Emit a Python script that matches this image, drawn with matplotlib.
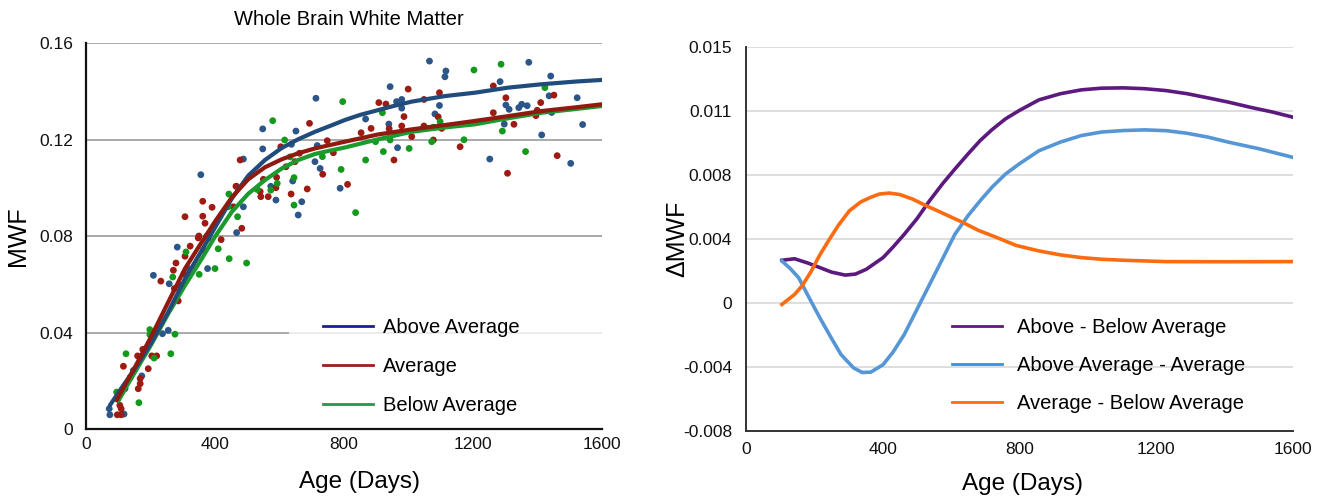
import matplotlib
matplotlib.use("Agg")
import matplotlib.pyplot as plt
from matplotlib.lines import Line2D

plt.rcParams['font.family'] = ['Liberation Sans', 'DejaVu Sans']

# ---- left panel: fitted curves (age in days, MWF)
above_x = [74, 110, 152, 204, 255, 307, 359, 400, 452, 503, 555, 607, 658, 710, 760, 803, 850, 906, 960, 1010, 1113, 1206, 1309, 1413, 1516, 1600]
above_y = [0.0098, 0.0170, 0.0250, 0.0361, 0.0485, 0.0623, 0.0740, 0.0835, 0.0955, 0.1050, 0.1115, 0.1165, 0.1201, 0.1232, 0.1258, 0.1281, 0.1302, 0.1322, 0.1341, 0.1357, 0.1380, 0.1394, 0.1415, 0.1429, 0.1440, 0.1447]
avg_x = [95, 120, 152, 204, 255, 307, 359, 400, 452, 503, 555, 607, 658, 710, 803, 906, 1010, 1113, 1206, 1309, 1413, 1516, 1600]
avg_y = [0.0119, 0.0180, 0.0257, 0.0388, 0.0526, 0.0665, 0.0775, 0.0860, 0.0960, 0.1035, 0.1085, 0.1118, 0.1143, 0.1163, 0.1191, 0.1221, 0.1242, 0.1260, 0.1277, 0.1297, 0.1318, 0.1333, 0.1346]
below_x = [100, 125, 152, 204, 255, 307, 359, 400, 452, 503, 555, 607, 658, 710, 760, 803, 906, 1010, 1113, 1206, 1309, 1413, 1516, 1600]
below_y = [0.0115, 0.0175, 0.0236, 0.0354, 0.0478, 0.0595, 0.0706, 0.0797, 0.0900, 0.0975, 0.1032, 0.1080, 0.1115, 0.1140, 0.1155, 0.1167, 0.1201, 0.1232, 0.1250, 0.1263, 0.1288, 0.1311, 0.1326, 0.1339]

# ---- left panel: individual subjects
blue_pts_x = [356, 713, 548, 651, 548, 488, 637, 717, 710, 726, 788, 641, 669, 658, 589, 573, 467, 488, 467,
              1065, 1116, 1113, 943, 963, 979, 1096, 979, 867, 1082, 939, 966,
              1373, 1441, 1284, 1436, 1523, 1302, 1312, 1342, 1351, 1368, 1444, 1297, 1540, 1413, 1252, 1503,
              283, 209, 258, 290, 377, 317, 255, 237, 147, 173, 121, 72, 74, 118, 375]
blue_pts_y = [0.1054, 0.1371, 0.1244, 0.1235, 0.1161, 0.1119, 0.1180, 0.1175, 0.1108, 0.1080, 0.0998, 0.1028, 0.0942, 0.0887, 0.0949, 0.1006, 0.1006, 0.0921, 0.0814,
              0.1525, 0.1484, 0.1460, 0.1419, 0.1357, 0.1366, 0.1341, 0.1330, 0.1285, 0.1306, 0.1264, 0.1166,
              0.1520, 0.1463, 0.1440, 0.1381, 0.1373, 0.1343, 0.1325, 0.1332, 0.1346, 0.1340, 0.1312, 0.1264, 0.1262, 0.1219, 0.1119, 0.1101,
              0.0754, 0.0637, 0.0602, 0.0596, 0.0665, 0.0665, 0.0409, 0.0395, 0.0243, 0.0220, 0.0167, 0.0084, 0.0059, 0.0062, 0.0800]
red_pts_x = [362, 391, 307, 362, 369, 693, 478, 604, 662, 748, 734, 767, 620, 648, 686, 636, 591, 589, 565, 542, 540, 550, 465, 457, 483,
             999, 1096, 1048, 908, 930, 986, 1092, 853, 884, 940, 979, 1048, 1103, 1010, 1077, 1160, 955, 811,
             1263, 1302, 1451, 1410, 1263, 1399, 1395, 1327, 1461, 1307,
             323, 348, 379, 307, 279, 232, 271, 274, 304, 286, 364, 419,
             176, 160, 204, 219, 116, 193, 168, 162, 168, 137, 111, 97, 109, 109, 105, 350]
red_pts_y = [0.0944, 0.0919, 0.0880, 0.0882, 0.0853, 0.1267, 0.1115, 0.1170, 0.1143, 0.1195, 0.1056, 0.1145, 0.1087, 0.1108, 0.0995, 0.0974, 0.1043, 0.1000, 0.0963, 0.0963, 0.0984, 0.1035, 0.1006, 0.0921, 0.0832,
             0.1409, 0.1394, 0.1366, 0.1353, 0.1347, 0.1295, 0.1294, 0.1228, 0.1246, 0.1245, 0.1256, 0.1256, 0.1246, 0.1212, 0.1198, 0.1170, 0.1115, 0.1014,
             0.1422, 0.1373, 0.1384, 0.1353, 0.1311, 0.1321, 0.1299, 0.1263, 0.1133, 0.1060,
             0.0758, 0.0792, 0.0791, 0.0716, 0.0688, 0.0613, 0.0658, 0.0582, 0.0644, 0.0531, 0.0741, 0.0785,
             0.0330, 0.0303, 0.0303, 0.0303, 0.0260, 0.0250, 0.0209, 0.0167, 0.0188, 0.0214, 0.0153, 0.0059, 0.0059, 0.0084, 0.0098, 0.0800]
green_pts_x = [796, 579, 616, 733, 791, 633, 645, 645, 593, 573, 531, 443, 441, 470,
               1203, 919, 1098, 1077, 898, 943, 922, 1002, 1072, 1172, 867, 836,
               1287, 1423, 1291, 1363,
               310, 269, 351, 400, 198, 198, 276, 211, 124, 263, 95, 164,
               410, 444, 498]
green_pts_y = [0.1357, 0.1278, 0.1198, 0.1129, 0.1076, 0.1128, 0.1042, 0.0928, 0.1018, 0.0990, 0.0993, 0.0974, 0.0921, 0.0880,
               0.1488, 0.1311, 0.1274, 0.1251, 0.1191, 0.1198, 0.1150, 0.1163, 0.1191, 0.1199, 0.1115, 0.0897,
               0.1512, 0.1415, 0.1235, 0.1150,
               0.0734, 0.0630, 0.0641, 0.0665, 0.0412, 0.0391, 0.0393, 0.0294, 0.0312, 0.0312, 0.0153, 0.0109,
               0.0747, 0.0706, 0.0688]

# ---- right panel: differences between groups
ab_x = [105, 142, 180, 216, 250, 290, 320, 352, 401, 430, 463, 500, 537, 575, 611, 650, 685, 720, 759, 800, 857, 920, 981, 1040, 1104, 1165, 1227, 1290, 1351, 1410, 1474, 1540, 1600]
ab_y = [0.00221, 0.00230, 0.00205, 0.00177, 0.00150, 0.00132, 0.00138, 0.00167, 0.00237, 0.00300, 0.00377, 0.00470, 0.00578, 0.00680, 0.00768, 0.00860, 0.00939, 0.01005, 0.01069, 0.01120, 0.01183, 0.01220, 0.01243, 0.01253, 0.01255, 0.01250, 0.01239, 0.01220, 0.01195, 0.01170, 0.01139, 0.01110, 0.01079]
aa_x = [105, 130, 154, 185, 216, 248, 278, 315, 340, 365, 401, 430, 463, 500, 537, 575, 611, 650, 685, 720, 759, 800, 857, 920, 981, 1040, 1104, 1166, 1230, 1289, 1350, 1412, 1500, 1600]
aa_y = [0.00217, 0.00170, 0.00116, -0.00005, -0.00124, -0.00240, -0.00345, -0.00425, -0.00452, -0.00450, -0.00405, -0.00330, -0.00224, -0.00074, 0.00076, 0.00230, 0.00377, 0.00490, 0.00578, 0.00660, 0.00738, 0.00800, 0.00878, 0.00930, 0.00969, 0.00990, 0.00999, 0.01003, 0.00998, 0.00983, 0.00960, 0.00929, 0.00890, 0.00838]
avb_x = [105, 142, 165, 191, 215, 241, 270, 302, 335, 364, 390, 419, 450, 487, 525, 561, 600, 635, 680, 734, 790, 857, 920, 981, 1040, 1104, 1227, 1400, 1600]
avb_y = [-0.00044, 0.00016, 0.00070, 0.00156, 0.00250, 0.00337, 0.00430, 0.00517, 0.00570, 0.00598, 0.00618, 0.00624, 0.00615, 0.00588, 0.00550, 0.00517, 0.00480, 0.00447, 0.00400, 0.00357, 0.00310, 0.00277, 0.00253, 0.00237, 0.00227, 0.00221, 0.00213, 0.00212, 0.00213]

right_ticks = [-0.008, -0.004166, -0.000333, 0.0035, 0.007333, 0.011166, 0.015]
right_labels = ["-0.008", "-0.004", "0", "0.004", "0.008", "0.011", "0.015"]

fig = plt.figure(figsize=(13.21, 4.98), dpi=100)
W, H = 1321, 498

# ================= left
ax1 = fig.add_axes([86 / W, 1 - 429 / H, 516 / W, 386 / H])
ax1.set_xlim(0, 1600)
ax1.set_ylim(0, 0.16)
for v in [0.08, 0.12, 0.16]:
    ax1.axhline(v, color='#a9a9a9', lw=1.4, zorder=0)
ax1.hlines(0.04, 0, 630, color='#a9a9a9', lw=1.4, zorder=0)
ax1.hlines(0.04, 630, 1600, color='#ebebeb', lw=1.4, zorder=0)

ax1.scatter(blue_pts_x, blue_pts_y, s=24, color='#2b5687', edgecolors='none', zorder=2)
ax1.scatter(red_pts_x, red_pts_y, s=24, color='#9e1b14', edgecolors='none', zorder=2)
ax1.scatter(green_pts_x, green_pts_y, s=24, color='#139a1c', edgecolors='none', zorder=2)
ax1.plot(below_x, below_y, color='#1c9a2e', lw=3.0, zorder=3, solid_capstyle='round')
ax1.plot(above_x, above_y, color='#204c7c', lw=3.0, zorder=3, solid_capstyle='round')
ax1.plot(avg_x, avg_y, color='#8e1a10', lw=3.0, zorder=4, solid_capstyle='round')

ax1.set_xticks([0, 400, 800, 1200, 1600])
ax1.set_yticks([0, 0.04, 0.08, 0.12, 0.16])
ax1.set_yticklabels(["0", "0.04", "0.08", "0.12", "0.16"])
ax1.tick_params(length=0, labelsize=12.5, colors='#111111')
ax1.tick_params(axis='x', pad=6)
ax1.tick_params(axis='y', pad=9)
for s in ['top', 'right']:
    ax1.spines[s].set_visible(False)
for s in ['left', 'bottom']:
    ax1.spines[s].set_color('#111111')
    ax1.spines[s].set_linewidth(1.6)
ax1.set_title("Whole Brain White Matter", fontsize=14.5, pad=13, x=0.51)
ax1.set_ylabel("MWF", fontsize=18)
ax1.yaxis.set_label_coords(-0.108, 0.5)
ax1.set_xlabel("Age (Days)", fontsize=17.5)
ax1.xaxis.set_label_coords(0.53, -0.11)

h1 = [Line2D([0], [0], color='#1a1f9c', lw=2),
      Line2D([0], [0], color='#a01c1c', lw=2),
      Line2D([0], [0], color='#1e9a50', lw=2)]
ax1.legend(h1, ["Above Average", "Average", "Below Average"], frameon=False, fontsize=14.5,
           loc='upper left', bbox_to_anchor=(323 / W, 1 - 318 / H), bbox_transform=fig.transFigure,
           borderpad=0, borderaxespad=0, handlelength=2.5, handletextpad=0.5, labelspacing=1.0)

# ================= right
ax2 = fig.add_axes([746 / W, 1 - 430.5 / H, 547 / W, 383.5 / H])
ax2.set_xlim(0, 1600)
ax2.set_ylim(-0.008, 0.015)
for v in right_ticks[1:]:
    ax2.axhline(v, color='#dedede', lw=1.4, zorder=0)
ax2.plot(ab_x, ab_y, color='#5c1a7e', lw=2.6, label="Above - Below Average")
ax2.plot(aa_x, aa_y, color='#5596d6', lw=2.6, label="Above Average - Average")
ax2.plot(avb_x, avb_y, color='#fb6b12', lw=2.6, label="Average - Below Average")
ax2.set_xticks([0, 400, 800, 1200, 1600])
ax2.set_yticks(right_ticks)
ax2.set_yticklabels(right_labels)
ax2.tick_params(length=0, labelsize=12.5, colors='#111111')
ax2.tick_params(axis='x', pad=8)
ax2.tick_params(axis='y', pad=10)
for s in ['top', 'right']:
    ax2.spines[s].set_visible(False)
for s in ['left', 'bottom']:
    ax2.spines[s].set_color('#333333')
    ax2.spines[s].set_linewidth(1.4)
ax2.set_ylabel("\u0394MWF", fontsize=18)
ax2.yaxis.set_label_coords(-0.103, 0.5)
ax2.set_xlabel("Age (Days)", fontsize=17.5)
ax2.xaxis.set_label_coords(0.505, -0.11)

h2 = [Line2D([0], [0], color='#5c1a7e', lw=2),
      Line2D([0], [0], color='#2f93e8', lw=2),
      Line2D([0], [0], color='#fb6b12', lw=2)]
ax2.legend(h2, ["Above - Below Average", "Above Average - Average", "Average - Below Average"],
           frameon=False, fontsize=14.5, loc='upper left', bbox_to_anchor=(952 / W, 1 - 318 / H),
           bbox_transform=fig.transFigure, borderpad=0, borderaxespad=0,
           handlelength=2.5, handletextpad=0.75, labelspacing=0.95)

fig.savefig("out.png", dpi=100)
